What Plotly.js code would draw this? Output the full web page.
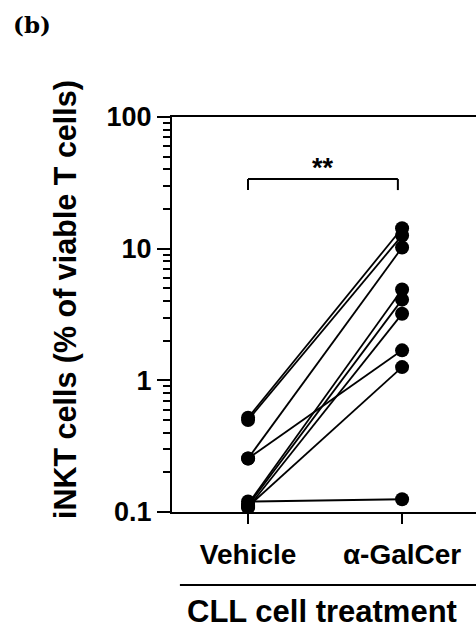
<!DOCTYPE html>
<html>
<head>
<meta charset="utf-8">
<script src="https://cdn.plot.ly/plotly-3.0.1.min.js"></script>
<style>html,body{margin:0;padding:0;background:#fff;}#chart{width:476px;height:629px;}</style>
</head>
<body>
<div id="chart"></div>
<script>
// Data (paired samples, % of viable T cells)
var categories = ["Vehicle", "α-GalCer"];
var vehicle = [0.52, 0.50, 0.255, 0.255, 0.115, 0.112, 0.108, 0.11, 0.12];
var galcer  = [14.3, 12.6, 10.2, 1.69, 4.9, 4.1, 3.2, 1.26, 0.125];
var yTickVals = [0.1, 1, 10, 100];
var yTickText = ["0.1", "1", "10", "100"];
var yMinorVals = [0.2,0.3,0.4,0.5,0.6,0.7,0.8,0.9,2,3,4,5,6,7,8,9,20,30,40,50,60,70,80,90];

var FONT = "Liberation Sans, Arial, sans-serif";
var traces = [];
for (var i = 0; i < vehicle.length; i++) {
  traces.push({
    x: categories,
    y: [vehicle[i], galcer[i]],
    type: "scatter",
    mode: "lines+markers",
    line: {color: "#000", width: 1.8},
    marker: {color: "#000", size: 14},
    showlegend: false,
    hoverinfo: "skip"
  });
}

var layout = {
  width: 476, height: 629,
  margin: {l: 172, r: 0, t: 117, b: 117},
  paper_bgcolor: "#fff", plot_bgcolor: "#fff",
  showlegend: false,
  xaxis: {
    type: "category",
    categoryarray: categories,
    range: [-0.494, 1.48],
    showline: true, linecolor: "#000", linewidth: 2, mirror: true,
    ticks: "outside", ticklen: 10, tickwidth: 2, tickcolor: "#000",
    showgrid: false, zeroline: false,
    ticklabelstandoff: 6,
    tickfont: {family: FONT, size: 28, color: "#000", weight: "bold"}
  },
  yaxis: {
    type: "log",
    range: [-1, 2],
    showline: true, linecolor: "#000", linewidth: 2,
    ticks: "outside", ticklen: 13, tickwidth: 2, tickcolor: "#000",
    tickvals: yTickVals, ticktext: yTickText,
    minor: {tickvals: yMinorVals, ticks: "outside", ticklen: 7, tickwidth: 2, tickcolor: "#000", showgrid: false},
    showgrid: false, zeroline: false,
    tickfont: {family: FONT, size: 27, color: "#000", weight: "bold"}
  },
  shapes: [
    {type: "line", xref: "paper", yref: "paper", x0: 0.25, x1: 0.743, y0: 0.843, y1: 0.843, line: {color: "#000", width: 2}},
    {type: "line", xref: "paper", yref: "paper", x0: 0.25, x1: 0.25, y0: 0.843, y1: 0.815, line: {color: "#000", width: 2}},
    {type: "line", xref: "paper", yref: "paper", x0: 0.743, x1: 0.743, y0: 0.843, y1: 0.815, line: {color: "#000", width: 2}},
    {type: "line", xref: "paper", yref: "paper", x0: 0.026, x1: 1.0, y0: -0.185, y1: -0.185, line: {color: "#000", width: 2}}
  ],
  annotations: [
    {text: "**", xref: "paper", yref: "paper", x: 0.497, y: 0.87, xanchor: "center", yanchor: "middle", showarrow: false,
     font: {family: FONT, size: 27, color: "#000", weight: "bold"}},
    {text: "CLL cell treatment", xref: "paper", yref: "paper", x: 0.493, y: -0.251, xanchor: "center", yanchor: "middle", showarrow: false,
     font: {family: FONT, size: 31, color: "#000", weight: "bold"}},
    {text: "iNKT cells (% of viable T cells)", xref: "paper", yref: "paper", x: -0.352, y: 0.539, xanchor: "center", yanchor: "middle", textangle: -90, showarrow: false,
     font: {family: FONT, size: 30.5, color: "#000", weight: "bold"}},
    {text: "(b)", xref: "paper", yref: "paper", x: -0.46, y: 1.233, xanchor: "center", yanchor: "middle", showarrow: false,
     font: {family: "DejaVu Serif, serif", size: 23, color: "#000", weight: "bold"}}
  ]
};

Plotly.newPlot("chart", traces, layout, {displayModeBar: false, staticPlot: true});
</script>
</body>
</html>
